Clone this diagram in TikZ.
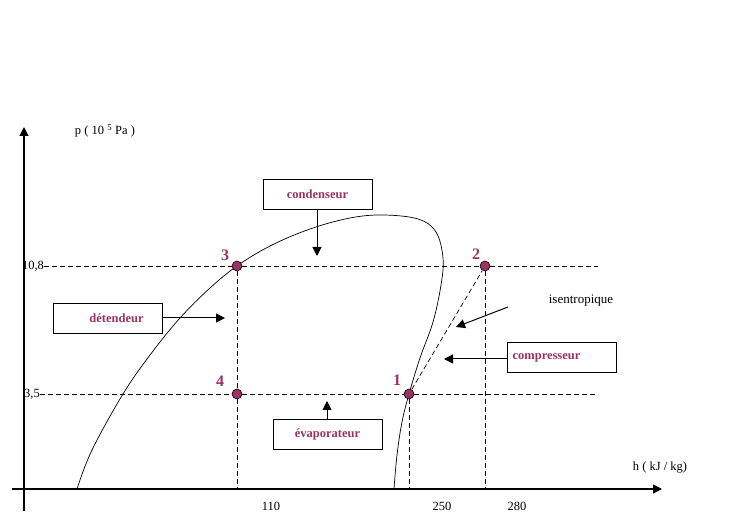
\documentclass[tikz,border=0pt]{standalone}
\usepackage{fontspec}
\setmainfont{Liberation Serif}
\usetikzlibrary{arrows.meta}
\definecolor{maroon}{HTML}{993366}
\tikzset{
  axisline/.style={line width=1.3pt},
  tipped/.style={-{Triangle[length=9pt,width=9pt]}},
  boxnode/.style={draw,line width=0.8pt,minimum width=109pt,minimum height=30pt,inner sep=0pt,
     font=\fontsize{12.5}{14}\selectfont\bfseries,text=maroon},
  statept/.style={circle,draw=black,fill=maroon,line width=0.6pt,minimum size=10pt,inner sep=0pt},
  numlab/.style={font=\fontsize{16}{18}\selectfont\bfseries,text=maroon,inner sep=0pt},
  axlab/.style={font=\fontsize{12.5}{14}\selectfont,inner sep=0pt},
  guide/.style={dash pattern=on 5pt off 3pt,line width=0.7pt},
  curve/.style={line width=0.7pt},
  pointer/.style={line width=1pt,-{Triangle[length=9pt,width=9pt]}}
}
\begin{document}
\begin{tikzpicture}[x=1pt,y=-1pt]
\useasboundingbox[fill=white] (0,0) rectangle (740,521);

% axes
\coordinate (ybot) at (24,511);
\coordinate (ytop) at (24,127);
\coordinate (xleft) at (12,489);
\coordinate (xright) at (662,489);
\draw[axisline,tipped] (ybot) -- (ytop);
\draw[axisline,tipped] (xleft) -- (xright);

\node[axlab] (plab) at (105,131) {p ( 10 \textsuperscript{5} Pa )};
\node[axlab] (hlab) at (660,468) {h\ (\ kJ\ /\ kg)};
\node[axlab] (t110) at (271,506) {110};
\node[axlab] (t250) at (442,506) {250};
\node[axlab] (t280) at (517,506) {280};
\node[axlab] (y108) at (33,266) {10,8};
\node[axlab] (y35) at (32,394) {3,5};

% guide coordinates
\coordinate (hiR) at (598,266);
\coordinate (loR) at (598,394);
\coordinate (a110) at (237,489);
\coordinate (a250) at (409,489);
\coordinate (a280) at (485,489);

% saturation dome
\draw[curve] plot[smooth,tension=0.6] coordinates {
 (77,489) (92,450) (123,394) (150,355) (180,318) (210,288) (237,266)
 (270,246) (310,229) (350,218) (383,215) (418,219) (436,232) (443,258)
 (441,285) (433,322) (420,358) (409,394) (402,422) (397,455) (394,489)};

% state points
\node[statept] (p3) at (237,266) {};
\node[statept] (p2) at (485,266) {};
\node[statept] (p4) at (237,394) {};
\node[statept] (p1) at (409,394) {};

% dashed guides
\draw[guide] (y108.east) -- (p3) -- (p2) -- (hiR);
\draw[guide] (y35.east) -- (p4) -- (p1) -- (loR);
\draw[guide] (p3) -- (p4) -- (a110);
\draw[guide] (p1) -- (a250);
\draw[guide] (p2) -- (a280);
\draw[guide] (p1) -- (p2);

% numbers
\node[numlab] (n3) at (225,255) {3};
\node[numlab] (n2) at (476,254) {2};
\node[numlab] (n4) at (220,381) {4};
\node[numlab] (n1) at (397,380) {1};

% boxes
\node[boxnode] (cond) at (317.5,194) {condenseur};
\node[boxnode] (det) at (107.5,318) {\hspace*{18pt}détendeur};
\node[boxnode] (comp) at (561.5,357.5) {compresseur\hspace*{30pt}};
\node[boxnode] (evap) at (327.5,434) {évaporateur};
\node[axlab,font=\fontsize{13}{15}\selectfont] (isen) at (581,301) {isentropique};

% pointer targets
\coordinate (condT) at (317,256);
\coordinate (detT) at (225,318);
\coordinate (compT) at (444,359);
\coordinate (evapT) at (327,401);
\coordinate (isenS) at (508,307);
\coordinate (isenT) at (456,327);

\draw[pointer] (cond.south -| condT) -- (condT);
\draw[pointer] (det.east) -- (detT);
\draw[pointer] (comp.west |- compT) -- (compT);
\draw[pointer] (evap.north -| evapT) -- (evapT);
\draw[pointer] (isenS) -- (isenT);
\end{tikzpicture}
\end{document}
